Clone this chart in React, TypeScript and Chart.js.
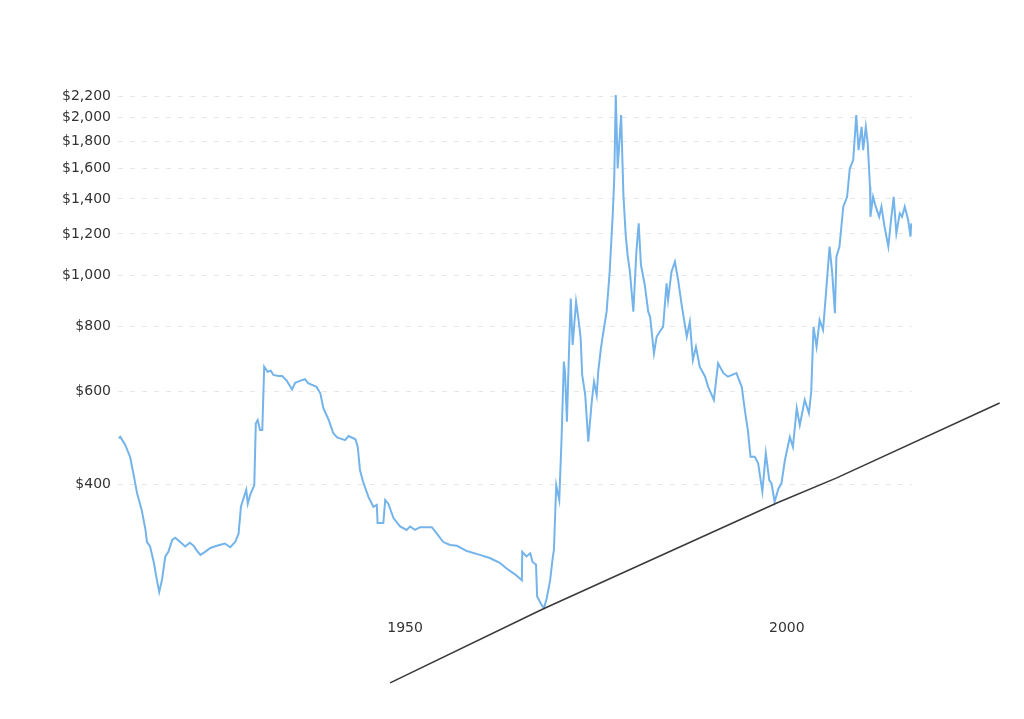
import React, { useEffect, useRef } from "react";
import { Chart, registerables } from "chart.js";

Chart.register(...registerables);

// Inflation-adjusted gold price (USD per ounce)
const years: number[] = [
  1912.5, 1912.7, 1913.35, 1914.0, 1914.4, 1914.9, 1915.5, 1916.0, 1916.2, 1916.6,
  1917.1, 1917.5, 1917.8, 1918.15, 1918.6, 1919.0, 1919.5, 1919.9, 1920.55, 1921.2,
  1921.8, 1922.3, 1922.7, 1923.2, 1923.8, 1924.5, 1925.35, 1926.4, 1927.1, 1927.75,
  1928.2, 1928.5, 1928.85, 1929.2, 1929.4, 1929.7, 1930.25, 1930.45, 1930.7, 1931.0,
  1931.3, 1931.55, 1932.0, 1932.4, 1932.76, 1933.4, 1933.9, 1934.5, 1935.2, 1935.6,
  1936.3, 1936.9, 1937.3, 1938.4, 1938.9, 1939.3, 1940.0, 1940.6, 1941.1, 1942.15,
  1942.6, 1943.5, 1943.8, 1944.1, 1944.5, 1945.2, 1945.85, 1946.3, 1946.4, 1947.15,
  1947.4, 1947.8, 1948.5, 1949.35, 1950.2, 1950.65, 1951.3, 1951.96, 1953.5, 1954.15,
  1955.0, 1955.9, 1956.8, 1958.1, 1959.8, 1961.1, 1962.4, 1963.3, 1964.4, 1965.3,
  1965.35, 1965.9, 1966.4, 1966.7, 1967.15, 1967.3, 1967.9, 1968.2, 1968.55, 1969.0,
  1969.3, 1969.5, 1969.8, 1970.2, 1970.5, 1970.8, 1970.95, 1971.2, 1971.5, 1971.7,
  1971.95, 1972.4, 1972.7, 1973.0, 1973.2, 1973.6, 1974.0, 1974.45, 1974.75, 1975.1,
  1975.3, 1975.65, 1976.05, 1976.4, 1976.8, 1977.2, 1977.4, 1977.6, 1977.85, 1978.3,
  1978.6, 1978.9, 1979.15, 1979.45, 1979.9, 1980.3, 1980.6, 1980.9, 1981.4, 1981.85,
  1982.1, 1982.6, 1982.95, 1983.5, 1983.8, 1984.25, 1984.45, 1984.9, 1985.35, 1985.8,
  1986.2, 1986.9, 1987.3, 1987.7, 1988.1, 1988.6, 1989.3, 1989.7, 1990.45, 1991.0,
  1991.7, 1992.3, 1993.4, 1994.1, 1994.5, 1994.9, 1995.25, 1995.8, 1996.25, 1996.8,
  1997.25, 1997.7, 1998.0, 1998.4, 1998.9, 1999.3, 1999.75, 2000.4, 2000.8, 2001.3,
  2001.7, 2002.35, 2002.9, 2003.2, 2003.5, 2003.9, 2004.3, 2004.75, 2005.2, 2005.6,
  2005.95, 2006.3, 2006.5, 2006.9, 2007.4, 2007.9, 2008.25, 2008.7, 2009.1, 2009.4,
  2009.8, 2010.0, 2010.35, 2010.6, 2010.9, 2010.95, 2011.3, 2011.65, 2012.1, 2012.4,
  2012.8, 2013.3, 2013.7, 2014.0, 2014.35, 2014.8, 2015.1, 2015.45, 2015.9, 2016.2,
  2016.3,
];

const prices: number[] = [
  489, 492, 475, 450, 420, 384, 357, 327, 310, 304,
  283, 262, 249, 262, 291, 297, 313, 316, 310, 304,
  309, 305, 299, 293, 297, 302, 305, 308, 303, 310,
  322, 362, 376, 390, 367, 381, 398, 522, 530, 507,
  507, 670, 655, 658, 646, 643, 643, 630, 606, 624,
  630, 634, 623, 613, 596, 558, 530, 500, 491, 485,
  494, 487, 471, 425, 404, 378, 362, 365, 337, 337,
  373, 367, 344, 332, 327, 332, 327, 331, 331, 322,
  310, 306, 305, 298, 293, 289, 283, 276, 269, 262,
  297, 291, 295, 284, 281, 244, 235, 232, 242, 262,
  286, 300, 398, 373, 489, 685, 655, 526, 737, 904,
  737, 891, 828, 759, 646, 591, 482, 574, 627, 591,
  655, 726, 793, 853, 1017, 1304, 1532, 2210, 1601, 2024,
  1424, 1195, 1094, 1017, 853, 1110, 1257, 1047, 959, 853,
  834, 710, 764, 787, 798, 966, 898, 1017, 1062, 973,
  885, 764, 816, 690, 731, 670, 641, 613, 579, 680,
  651, 641, 651, 613, 554, 507, 451, 451, 438, 387,
  458, 407, 401, 370, 392, 401, 444, 492, 471, 558,
  518, 579, 546, 600, 798, 731, 822, 787, 952, 1135,
  1009, 847, 1086, 1135, 1353, 1413, 1600, 1660, 2024, 1735,
  1922, 1735, 1922, 1787, 1477, 1294, 1413, 1353, 1294, 1353,
  1239, 1135, 1294, 1413, 1203, 1314, 1294, 1353, 1276, 1186,
  1257,
];

// Hand-drawn support trend line (year, value)
const trendYears: number[] = [1948.04, 1968.06, 1998.69, 2006.54, 2027.88];
const trendValues: number[] = [167, 231, 368, 411, 571];

const yTicks: number[] = [400, 600, 800, 1000, 1200, 1400, 1600, 1800, 2000, 2200];
const xTicks: number[] = [1950, 2000];

const FONT = "'DejaVu Sans', Verdana, sans-serif";

const trendPlugin = {
  id: "trendLine",
  afterDatasetsDraw(chart: any) {
    const xs = chart.scales.x;
    const ys = chart.scales.y;
    const ctx = chart.ctx;
    ctx.save();
    ctx.beginPath();
    trendYears.forEach((yr, i) => {
      const px = xs.getPixelForValue(yr);
      const py = ys.getPixelForValue(trendValues[i]);
      if (i === 0) ctx.moveTo(px, py);
      else ctx.lineTo(px, py);
    });
    ctx.strokeStyle = "#3a3a3a";
    ctx.lineWidth = 1.6;
    ctx.lineJoin = "round";
    ctx.stroke();
    ctx.restore();
  },
};

export default function App() {
  const ref = useRef<HTMLCanvasElement | null>(null);

  useEffect(() => {
    if (!ref.current) return;
    const data = years.map((yr, i) => ({ x: yr, y: prices[i] }));
    const chart = new Chart(ref.current, {
      type: "line",
      data: {
        datasets: [
          {
            data,
            borderColor: "#74b4ea",
            borderWidth: 2,
            pointRadius: 0,
            tension: 0,
            fill: false,
          },
        ],
      },
      options: {
        animation: false,
        responsive: false,
        parsing: false as any,
        layout: { padding: { left: 8, top: 81, right: 112, bottom: 79 } },
        plugins: {
          legend: { display: false },
          tooltip: { enabled: false },
        },
        scales: {
          x: {
            type: "linear",
            min: 1912.4,
            max: 2016.4,
            afterBuildTicks: (s: any) => {
              s.ticks = xTicks.map((v) => ({ value: v }));
            },
            afterFit: (s: any) => {
              s.height = 30;
            },
            grid: { display: false, drawTicks: false },
            border: { display: false },
            ticks: {
              padding: 10,
              color: "#333",
              font: { family: FONT, size: 14 },
              maxRotation: 0,
              autoSkip: false,
              callback: (v: any) => String(v),
            },
          },
          y: {
            type: "logarithmic",
            min: 230,
            max: 2350,
            afterBuildTicks: (s: any) => {
              s.ticks = yTicks.map((v) => ({ value: v }));
            },
            afterFit: (s: any) => {
              s.width = 110;
            },
            grid: {
              color: "#e6e6e6",
              lineWidth: 1,
              drawTicks: false,
            },
            border: { display: false, dash: [5, 7] },
            ticks: {
              padding: 7,
              color: "#333",
              font: { family: FONT, size: 14 },
              autoSkip: false,
              callback: (v: any) => "$" + Number(v).toLocaleString("en-US"),
            },
          },
        },
      },
      plugins: [trendPlugin],
    });
    return () => chart.destroy();
  }, []);

  return (
    <div style={{ position: "absolute", left: 0, top: 0, width: 1024, height: 719, background: "#fff" }}>
      <canvas ref={ref} width={1024} height={719} />
    </div>
  );
}
